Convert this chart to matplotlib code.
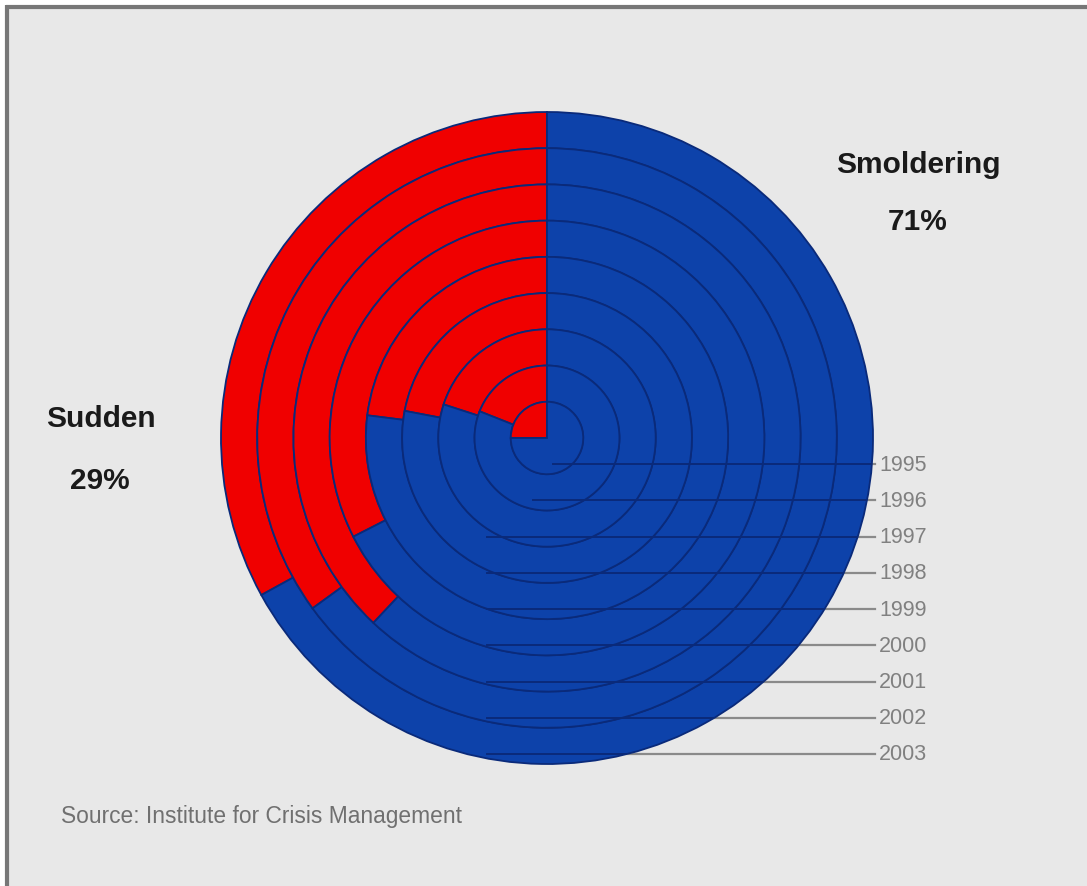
import matplotlib
matplotlib.use("Agg")
import matplotlib.pyplot as plt
from matplotlib.patches import Circle, Rectangle

# share of "sudden" crises per year (percent), innermost ring = 1995
years = ["1995", "1996", "1997", "1998", "1999", "2000", "2001", "2002", "2003"]
sudden = [25, 19, 20, 22, 23, 32.5, 38, 35, 33]
smoldering = [100 - s for s in sudden]

total_labels = ["Sudden", "Smoldering"]
total_pct = ["29%", "71%"]
source = "Source: Institute for Crisis Management"

red = "#f00000"
blue = "#0d42aa"
navy = "#0a2a7a"

W, H = 1087, 887
fig = plt.figure(figsize=(W / 100, H / 100), dpi=100)
fig.patch.set_facecolor("white")

# background panel with the grey frame on top / left
bg = fig.add_axes([0, 0, 1, 1])
bg.set_xlim(0, W)
bg.set_ylim(H, 0)
bg.axis("off")
bg.add_patch(Rectangle((7, 7), W, H, facecolor="#e8e8e8", edgecolor="none"))
bg.plot([6, W], [7.5, 7.5], color="#777777", lw=3, solid_capstyle="butt")
bg.plot([7, 7], [6, H], color="#777777", lw=3, solid_capstyle="butt")

# pie axes, one unit = one pixel
cx, cy, R = 547, 439, 326
half = 330
ax = fig.add_axes([(cx - half) / W, (H - cy - half) / H, 2 * half / W, 2 * half / H])

n = len(years)
ring_w = R / n
for i in range(n - 1, -1, -1):
    r = ring_w * (i + 1)
    ax.pie([sudden[i], smoldering[i]], colors=[red, blue], startangle=90,
           counterclock=True, radius=r, center=(0, 0),
           wedgeprops=dict(width=ring_w, edgecolor=navy, linewidth=1.3))

ax.set_xlim(-half, half)
ax.set_ylim(-half, half)
ax.set_aspect("equal")
ax.axis("off")

# leader lines and year labels
clip = Circle((0, 0), R, transform=ax.transData)
for i, yr in enumerate(years):
    y = -(ring_w * (i + 1) - 10)
    x0 = 6 if i == 0 else (-14 if i == 1 else -60)
    ax.plot([x0, R + 2], [y, y], color="#8a8a8a", lw=1.6, zorder=0.5, clip_on=False)
    ln, = ax.plot([x0, R + 2], [y, y], color=navy, lw=1.4, zorder=5)
    ln.set_clip_path(clip)
    ax.text(R + 6, y, yr, fontsize=15.5, color="#808080", va="center", ha="left",
            family="Liberation Sans", clip_on=False)

# category labels
lab = dict(fontsize=21.5, fontweight="bold", color="#1a1a1a",
           ha="center", va="center", family="Liberation Sans")
bg.text(101, 419, total_labels[0], **lab)
bg.text(100, 481, total_pct[0], **lab)
bg.text(918, 165, total_labels[1], **lab)
bg.text(918, 222, total_pct[1], **lab)

bg.text(61, 817, source, fontsize=16.4, color="#707070", ha="left", va="center",
        family="Liberation Sans")

fig.savefig("out.png", dpi=100)
